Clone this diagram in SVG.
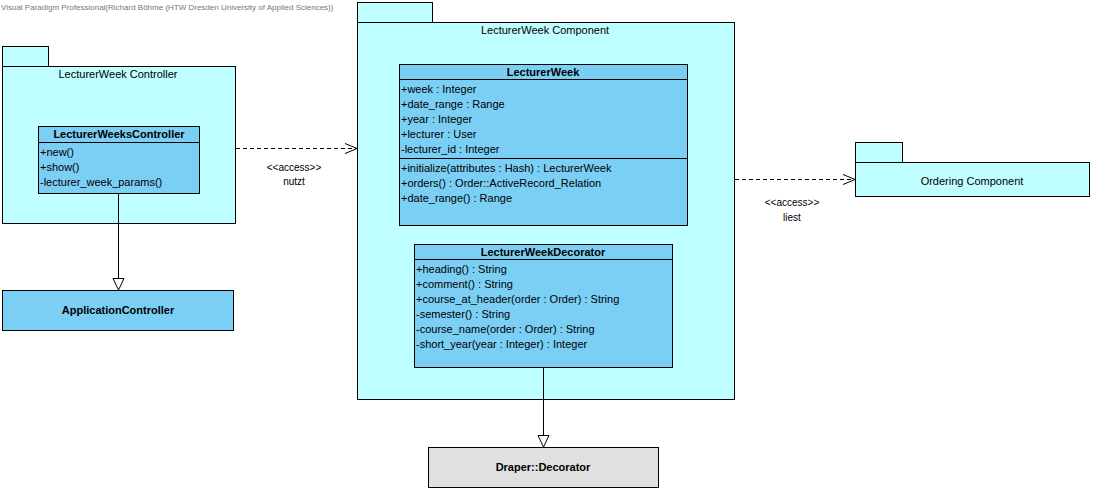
<svg xmlns="http://www.w3.org/2000/svg" width="1095" height="491" viewBox="0 0 1095 491">
<style>
text{font-family:"Liberation Sans",Arial,sans-serif;font-size:11px;fill:#000}
.wm{font-size:8px;fill:#777}
.pkg{fill:#c0ffff;stroke:#000;stroke-width:1}
.cls{fill:#7ccff4;stroke:#000;stroke-width:1}
.ext{fill:#e0e0e0;stroke:#000;stroke-width:1}
.b{font-weight:bold}
.c{text-anchor:middle}
.sm{font-size:10px}
.ln{stroke:#000;stroke-width:1;fill:none}
.dash{stroke:#000;stroke-width:1;fill:none;stroke-dasharray:4,3}
</style>
<defs>
<marker id="open" markerWidth="14" markerHeight="12" refX="13" refY="6" orient="auto" markerUnits="userSpaceOnUse">
<path d="M1,1 L13,6 L1,11" fill="none" stroke="#000"/>
</marker>
<marker id="tri" markerWidth="14" markerHeight="14" refX="12" refY="6" orient="auto" markerUnits="userSpaceOnUse">
<path d="M0.5,0.5 L12,6 L0.5,11.5 Z" fill="#fff" stroke="#000"/>
</marker>
</defs>
<rect width="1095" height="491" fill="#fff"/>
<text class="wm" x="1" y="10">Visual Paradigm Professional(Richard Böhme (HTW Dresden University of Applied Sciences))</text>

<g id="pkg-controller">
<rect class="pkg" x="2.5" y="46.5" width="46" height="20"/>
<rect class="pkg" x="2.5" y="66.5" width="233" height="157"/>
<text class="c" x="118" y="78">LecturerWeek Controller</text>
</g>
<g id="cls-lwc">
<rect class="cls" x="38.5" y="126.5" width="161" height="67"/>
<line class="ln" x1="38.5" y1="142.5" x2="199.5" y2="142.5"/>
<text class="b c" x="119" y="138">LecturerWeeksController</text>
<text x="40" y="156">+new()</text>
<text x="40" y="171">+show()</text>
<text x="40" y="186">-lecturer_week_params()</text>
</g>

<g id="cls-appctrl">
<rect class="cls" x="2.5" y="290.5" width="231" height="40"/>
<text class="b c" x="118" y="314">ApplicationController</text>
</g>

<g id="pkg-component">
<rect class="pkg" x="357.5" y="2.5" width="75" height="20"/>
<rect class="pkg" x="357.5" y="22.5" width="377" height="377"/>
<text class="c" x="545" y="34">LecturerWeek Component</text>
</g>
<g id="cls-lw">
<rect class="cls" x="399.5" y="64.5" width="288" height="161"/>
<line class="ln" x1="399.5" y1="79.5" x2="687.5" y2="79.5"/>
<line class="ln" x1="399.5" y1="158.5" x2="687.5" y2="158.5"/>
<text class="b c" x="543" y="76">LecturerWeek</text>
<text x="401" y="93">+week : Integer</text>
<text x="401" y="108">+date_range : Range</text>
<text x="401" y="123">+year : Integer</text>
<text x="401" y="138">+lecturer : User</text>
<text x="401" y="153">-lecturer_id : Integer</text>
<text x="401" y="172">+initialize(attributes : Hash) : LecturerWeek</text>
<text x="401" y="187">+orders() : Order::ActiveRecord_Relation</text>
<text x="401" y="202">+date_range() : Range</text>
</g>
<g id="cls-lwd">
<rect class="cls" x="414.5" y="244.5" width="258" height="123"/>
<line class="ln" x1="414.5" y1="259.5" x2="672.5" y2="259.5"/>
<text class="b c" x="543" y="256">LecturerWeekDecorator</text>
<text x="416" y="273">+heading() : String</text>
<text x="416" y="288">+comment() : String</text>
<text x="416" y="303">+course_at_header(order : Order) : String</text>
<text x="416" y="318">-semester() : String</text>
<text x="416" y="333">-course_name(order : Order) : String</text>
<text x="416" y="348">-short_year(year : Integer) : Integer</text>
</g>

<g id="cls-draper">
<rect class="ext" x="428.5" y="447.5" width="230" height="40"/>
<text class="b c" x="543" y="471">Draper::Decorator</text>
</g>

<g id="pkg-ordering">
<rect class="pkg" x="855.5" y="142.5" width="47" height="20"/>
<rect class="pkg" x="855.5" y="162.5" width="234" height="34"/>
<text class="c" x="972" y="185">Ordering Component</text>
</g>

<g id="connectors">
<line class="ln" x1="118.5" y1="193.5" x2="118.5" y2="290" marker-end="url(#tri)"/>
<line class="ln" x1="543.5" y1="367.5" x2="543.5" y2="447" marker-end="url(#tri)"/>
<line class="dash" x1="236" y1="148.5" x2="357" y2="148.5" marker-end="url(#open)"/>
<text class="c sm" x="294" y="171">&lt;&lt;access&gt;&gt;</text>
<text class="c sm" x="294" y="185">nutzt</text>
<line class="dash" x1="735" y1="179.5" x2="855" y2="179.5" marker-end="url(#open)"/>
<text class="c sm" x="792" y="206">&lt;&lt;access&gt;&gt;</text>
<text class="c sm" x="792" y="221">liest</text>
</g>
</svg>
